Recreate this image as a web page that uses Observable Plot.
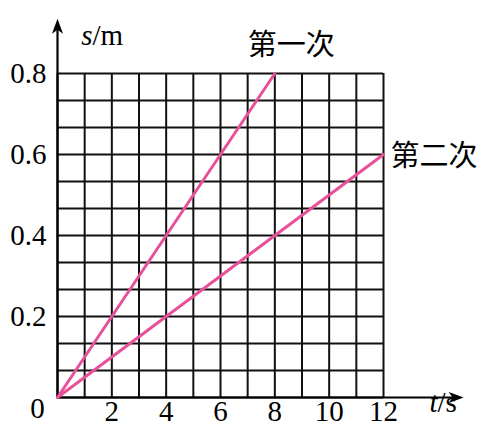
<!DOCTYPE html>
<html>
<head>
<meta charset="utf-8">
<script src="https://cdn.jsdelivr.net/npm/d3@7"></script>
<script src="https://cdn.jsdelivr.net/npm/@observablehq/plot@0.6"></script>
<style>
  html, body { margin: 0; padding: 0; background: #fff; }
  svg { display: block; }
</style>
</head>
<body>
<script>
// Data
const series1T = [0, 8];
const series1S = [0, 0.8];
const series2T = [0, 12];
const series2S = [0, 0.6];
const seriesNames = ["第一次", "第二次"];
const xTickLabels = [2, 4, 6, 8, 10, 12];
const yTickLabels = [0.2, 0.4, 0.6, 0.8];
const xMax = 12, yMax = 0.8;
const xAxisEnd = 14.95, yAxisEnd = 0.935;

const xGrid = d3.range(0, xMax + 1, 1);
const yGrid = d3.range(0, 13).map(i => i * yMax / 12);

const lines = [
  ...series1T.map((t, i) => ({t, s: series1S[i], name: seriesNames[0]})),
  ...series2T.map((t, i) => ({t, s: series2S[i], name: seriesNames[1]}))
];
const ends = [
  {t: series1T[1], s: series1S[1], name: seriesNames[0]},
  {t: series2T[1], s: series2S[1], name: seriesNames[1]}
];

const arrowHead = {
  draw(ctx) {
    ctx.moveTo(0, 0);
    ctx.lineTo(-5.5, 15);
    ctx.lineTo(0, 11);
    ctx.lineTo(5.5, 15);
    ctx.closePath();
  }
};

const pink = "#e8509a";
const serif = "Liberation Serif";
const cjk = "Noto Sans CJK SC";
const fs = 29;

const chart = Plot.plot({
  width: 484,
  height: 428,
  marginLeft: 57,
  marginRight: 101,
  marginTop: 73,
  marginBottom: 31,
  x: {domain: [0, xMax], axis: null},
  y: {domain: [0, yMax], axis: null},
  style: {background: "#fff"},
  marks: [
    Plot.ruleX(xGrid, {x: d => d, y1: 0, y2: yMax, stroke: "#111", strokeWidth: 2}),
    Plot.ruleY(yGrid, {y: d => d, x1: 0, x2: xMax, stroke: "#111", strokeWidth: 2}),
    Plot.ruleY([0], {x1: 0, x2: xAxisEnd - 0.2, stroke: "#000", strokeWidth: 2.2}),
    Plot.ruleX([0], {y1: 0, y2: yAxisEnd - 0.01, stroke: "#000", strokeWidth: 2.2}),
    Plot.dot([{x: xAxisEnd, y: 0}], {x: "x", y: "y", symbol: arrowHead, fill: "#000", stroke: "none", rotate: 90}),
    Plot.dot([{x: 0, y: yAxisEnd}], {x: "x", y: "y", symbol: arrowHead, fill: "#000", stroke: "none"}),
    Plot.line(lines, {x: "t", y: "s", z: "name", stroke: pink, strokeWidth: 3}),
    // y tick labels
    Plot.text(yTickLabels, {x: 0, y: d => d, text: d => String(d), textAnchor: "end", dx: -11, fontSize: fs, fontFamily: serif, fill: "#000"}),
    // origin label
    Plot.text(["0"], {x: 0, y: 0, text: d => d, textAnchor: "middle", dx: -20, dy: 11, fontSize: fs, fontFamily: serif, fill: "#000"}),
    // x tick labels
    Plot.text(xTickLabels, {x: d => d, y: 0, text: d => String(d), textAnchor: "middle", dy: 14.5, fontSize: fs, fontFamily: serif, fill: "#000"}),
    // axis titles
    Plot.text(["t"], {frameAnchor: "bottom-right", text: d => d, textAnchor: "end", dx: 54, dy: 14.5, fontSize: fs, fontFamily: serif, fontStyle: "italic", fill: "#000"}),
    Plot.text(["/s"], {frameAnchor: "bottom-right", text: d => d, textAnchor: "start", dx: 54, dy: 14.5, fontSize: fs, fontFamily: serif, fill: "#000"}),
    Plot.text(["s"], {frameAnchor: "top-left", text: d => d, textAnchor: "end", dx: 35, dy: -49, fontSize: fs, fontFamily: serif, fontStyle: "italic", fill: "#000"}),
    Plot.text(["/m"], {frameAnchor: "top-left", text: d => d, textAnchor: "start", dx: 35, dy: -49, fontSize: fs, fontFamily: serif, fill: "#000"}),
    // series labels
    Plot.text([ends[0]], {x: "t", y: "s", text: "name", textAnchor: "start", dx: -27, dy: -28, fontSize: 29, fontFamily: cjk, fill: "#000"}),
    Plot.text([ends[1]], {x: "t", y: "s", text: "name", textAnchor: "start", dx: 7, dy: 2, fontSize: 29, fontFamily: cjk, fill: "#000"})
  ]
});
document.body.appendChild(chart);
</script>
</body>
</html>
